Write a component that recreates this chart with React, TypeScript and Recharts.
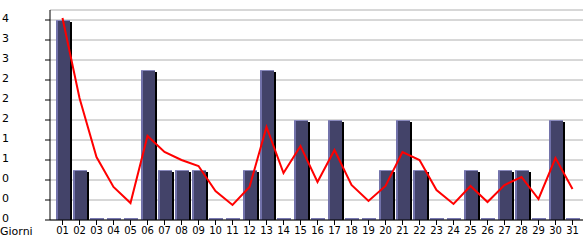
import { Bar, Line, XAxis, YAxis, CartesianGrid, ComposedChart } from "recharts";

const days = [
  "01", "02", "03", "04", "05", "06", "07", "08", "09", "10", "11", "12", "13", "14", "15", "16",
  "17", "18", "19", "20", "21", "22", "23", "24", "25", "26", "27", "28", "29", "30", "31",
];
const counts = [4, 1, 0, 0, 0, 3, 1, 1, 1, 0, 0, 1, 3, 0, 2, 0, 2, 0, 0, 1, 2, 1, 0, 0, 1, 0, 1, 1, 0, 2, 0];
const trend = [
  4.04, 2.44, 1.26, 0.66, 0.34, 1.68, 1.36, 1.2, 1.08, 0.58, 0.3, 0.66, 1.86, 0.94, 1.48, 0.76,
  1.4, 0.7, 0.38, 0.68, 1.36, 1.2, 0.6, 0.32, 0.68, 0.36, 0.7, 0.86, 0.42, 1.24, 0.62,
];
const yTicks = [0, 0.4, 0.8, 1.2, 1.6, 2.0, 2.4, 2.8, 3.2, 3.6, 4.0];
const yTickLabels = ["0", "0", "0", "1", "1", "2", "2", "2", "3", "3", "4"];

const data = days.map((day, i) => ({ day, count: counts[i], trend: trend[i] }));

const FONT = "'DejaVu Sans', Verdana, sans-serif";

const BarShape = (props: any) => {
  const { x, y, width, height, payload } = props;
  if (payload.count === 0) {
    return <rect x={x} y={y + height - 2} width={width} height={2} fill="#7a7ab2" />;
  }
  return (
    <g>
      <rect x={x + width} y={y + 2} width={2} height={height - 2} fill="#000" />
      <rect x={x} y={y} width={width} height={height} fill="#434369" />
      <rect x={x} y={y} width={2} height={height} fill="#7272aa" />
      <rect x={x} y={y} width={width} height={1} fill="#8a8abd" />
    </g>
  );
};

const YTick = (props: any) => {
  const { y, payload, index } = props;
  return (
    <g>
      <line x1={45} x2={50} y1={y} y2={y} stroke="#000" />
      <text x={2} y={y + 2} fontSize={11} fontFamily={FONT} fill="#000">
        {yTickLabels[index] ?? payload.value}
      </text>
    </g>
  );
};

const GiorniLabel = (props: any) => {
  const { viewBox } = props;
  return (
    <text x={viewBox.x - 50} y={viewBox.y + 15} fontSize={11} fontFamily={FONT} fill="#000">
      Giorni
    </text>
  );
};

export default function App() {
  return (
    <div style={{ position: "absolute", left: 0, top: 0, background: "#fff" }}>
      <ComposedChart
        width={585}
        height={240}
        data={data}
        margin={{ top: 10, right: 2, left: 0, bottom: 0 }}
      >
        <CartesianGrid stroke="#b0b0b0" vertical={false} horizontal={true} />
        <XAxis
          dataKey="day"
          height={20}
          interval={0}
          padding={{ left: 4, right: 2 }}
          axisLine={{ stroke: "#000" }}
          tickLine={{ stroke: "#000" }}
          tickSize={5}
          tick={{ fontSize: 10, fontFamily: FONT, fill: "#000" }}
          label={<GiorniLabel />}
        />
        <XAxis
          xAxisId="top"
          dataKey="day"
          orientation="top"
          height={0}
          tick={false}
          tickLine={false}
          axisLine={{ stroke: "#000" }}
        />
        <YAxis
          width={50}
          domain={[0, 4.2]}
          ticks={yTicks}
          interval={0}
          axisLine={{ stroke: "#000" }}
          tickLine={false}
          tick={<YTick />}
        />
        <YAxis
          yAxisId="right"
          orientation="right"
          width={0}
          domain={[0, 4.2]}
          tick={false}
          tickLine={false}
          axisLine={{ stroke: "#000" }}
        />
        <Bar
          dataKey="count"
          barSize={14}
          minPointSize={2}
          shape={<BarShape />}
          isAnimationActive={false}
        />
        <Line
          dataKey="trend"
          type="linear"
          stroke="#ff0000"
          strokeWidth={2}
          dot={false}
          activeDot={false}
          isAnimationActive={false}
        />
      </ComposedChart>
    </div>
  );
}
